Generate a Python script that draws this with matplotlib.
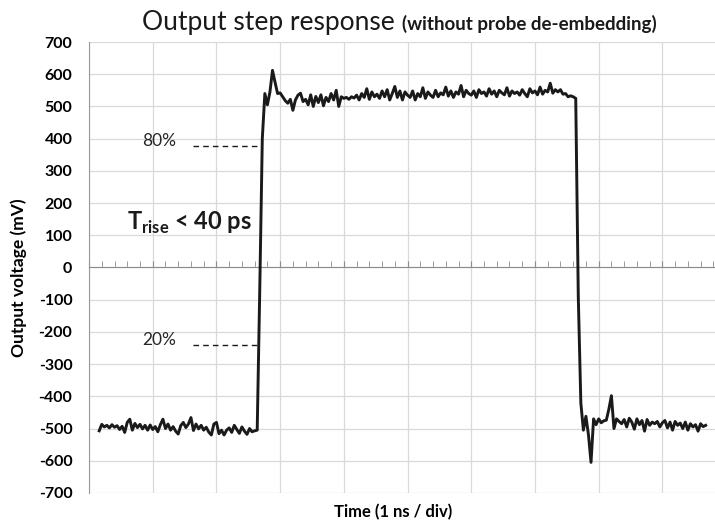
"""Output step response trace (scope capture, no probe de-embedding)."""
import matplotlib

matplotlib.use("Agg")
import matplotlib.pyplot as plt  # noqa: E402
import numpy as np  # noqa: E402
from matplotlib.ticker import MultipleLocator  # noqa: E402

# scope samples: first sample time and sample interval (ns)
T_START = 0.16
T_STEP = 0.04

# voltage samples (mV)
V_LOW = [
    -507, -487, -495, -490, -498, -488, -496, -491, -503, -493,
    -512, -481, -471, -505, -484, -497, -487, -501, -490, -505,
    -489, -503, -494, -510, -488, -471, -500, -486, -505, -494,
    -508, -517, -491, -481, -497, -486, -466, -506, -486, -501,
    -490, -505, -496, -511, -520, -486, -481, -516, -505, -520,
    -505, -498, -512, -490, -503, -515, -495, -508, -518, -500,
    -510, -507, -505,
]
V_EDGE_UP = [-70, 400, 540, 505, 545, 612, 575]
V_HIGH = [
    540, 542, 530, 518, 510, 522, 488, 520, 535, 541,
    515, 522, 505, 536, 500, 531, 512, 536, 502, 528,
    515, 540, 520, 550, 500, 530, 525, 528, 522, 530,
    526, 535, 520, 540, 528, 555, 522, 545, 530, 538,
    525, 548, 530, 552, 520, 540, 562, 528, 548, 520,
    545, 535, 528, 548, 520, 540, 530, 558, 525, 545,
    535, 528, 550, 530, 542, 536, 560, 532, 548, 528,
    545, 538, 565, 530, 550, 540, 535, 548, 528, 552,
    540, 545, 532, 555, 538, 548, 530, 550, 542, 536,
    558, 532, 548, 540, 545, 535, 552, 540, 530, 555,
    542, 548, 536, 560, 538, 550, 545, 572, 541, 552,
    545, 552, 538, 540, 530, 533, 530, 525,
]
V_EDGE_DOWN = [-90, -420]
V_TAIL = [
    -505, -462, -520, -605, -470, -488, -470, -482, -476, -474,
    -440, -398, -500, -470, -478, -485, -472, -495, -468, -480,
    -502, -470, -488, -475, -508, -472, -490, -480, -485, -478,
    -495, -482, -475, -498, -480, -505, -478, -490, -483, -500,
    -480, -505, -485, -495, -488, -508, -485, -494, -490,
]

Y_TICKS = list(range(-700, 701, 100))
LEVEL_80 = 378
LEVEL_20 = -240
MARK_T0, MARK_T1 = 1.63, 2.68

FONT = "Lato"
plt.rcParams["font.family"] = [FONT, "DejaVu Sans"]
plt.rcParams["mathtext.fontset"] = "custom"
plt.rcParams["mathtext.rm"] = FONT
plt.rcParams["mathtext.bf"] = f"{FONT}:bold"
plt.rcParams["axes.unicode_minus"] = False

volts = np.array(V_LOW + V_EDGE_UP + V_HIGH + V_EDGE_DOWN + V_TAIL, dtype=float)
times = T_START + T_STEP * np.arange(len(volts))

fig = plt.figure(figsize=(7.15, 5.25), dpi=100)
ax = fig.add_axes([0.1245, 0.061, 0.891, 0.859])

ax.plot(times, volts, color="#1a1a1a", lw=2.1, solid_joinstyle="round", zorder=3)

ax.plot([MARK_T0, MARK_T1], [LEVEL_80, LEVEL_80], color="#1a1a1a", lw=1.0,
        dashes=(4, 3), zorder=2)
ax.plot([MARK_T0, MARK_T1], [LEVEL_20, LEVEL_20], color="#1a1a1a", lw=1.0,
        dashes=(4, 3), zorder=2)
ax.text(0.83, LEVEL_80 + 15, "80%", fontsize=12.5, color="#262626", va="center")
ax.text(0.83, LEVEL_20 + 15, "20%", fontsize=12.5, color="#262626", va="center")
ax.text(0.6, 118, r"$\mathbf{T}_{\mathbf{rise}}$ < 40 ps", fontsize=17,
        fontweight="bold", color="#1a1a1a", va="baseline")

ax.set_xlim(0, 10)
ax.set_ylim(-700, 700)
ax.set_yticks(Y_TICKS)
ax.xaxis.set_major_locator(MultipleLocator(1))
ax.xaxis.set_minor_locator(MultipleLocator(0.2))
ax.grid(True, which="major", color="#d9d9d9", lw=0.9, zorder=0)

for side in ("top", "right"):
    ax.spines[side].set_visible(False)
ax.spines["left"].set_color("#9a9a9a")
ax.spines["bottom"].set_position(("data", 0))
ax.spines["bottom"].set_color("#8c8c8c")
ax.tick_params(axis="x", which="both", direction="in", labelbottom=False,
               color="#8c8c8c")
ax.tick_params(axis="x", which="major", length=4)
ax.tick_params(axis="x", which="minor", length=4)
ax.tick_params(axis="y", length=0, pad=12, labelsize=11.5)
for lab in ax.get_yticklabels():
    lab.set_fontweight("bold")

fig.text(0.552, 0.943, "Output step response", fontsize=19, ha="right",
         va="baseline", color="#1a1a1a")
fig.text(0.562, 0.943, "(without probe de-embedding)", fontsize=13.5,
         fontweight="bold", ha="left", va="baseline", color="#1a1a1a")
fig.text(0.026, 0.472, "Output voltage (mV)", rotation=90, fontsize=12.5,
         fontweight="bold", ha="center", va="center")
fig.text(0.55, 0.025, "Time (1 ns / div)", fontsize=12, fontweight="bold",
         ha="center", va="center")

fig.savefig("out.png", dpi=100)
